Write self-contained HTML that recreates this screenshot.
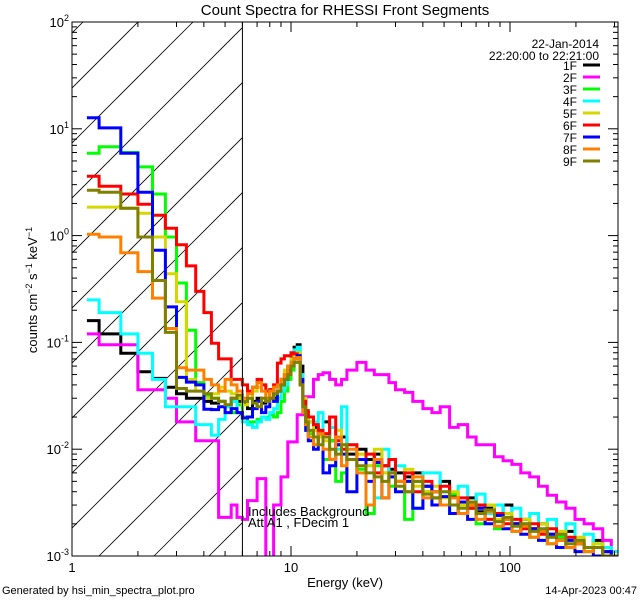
<!DOCTYPE html>
<html><head><meta charset="utf-8"><style>
body{margin:0;background:#fff;}
svg{display:block;font-family:"Liberation Sans",sans-serif;}
</style></head><body>
<svg id="chart" width="640" height="600" viewBox="0 0 640 600" xmlns="http://www.w3.org/2000/svg">
<defs><clipPath id="pc"><rect x="72" y="22" width="546" height="534"/></clipPath></defs>
<rect x="0" y="0" width="640" height="600" fill="#fff"/>
<text x="345" y="15" text-anchor="middle" font-size="15">Count Spectra for RHESSI Front Segments</text>
<g id="hatch" clip-path="url(#hc)"></g>
<g id="series" clip-path="url(#pc)"></g>
<g id="axes"></g>
<text x="248" y="516" font-size="13">Includes Background</text>
<text x="248" y="527" font-size="13">Att A1 , FDecim 1</text>
<text x="345" y="587" text-anchor="middle" font-size="13">Energy (keV)</text>
<text transform="translate(37,290) rotate(-90)" text-anchor="middle" font-size="13">counts cm<tspan dy="-5" font-size="9">−2</tspan><tspan dy="5"> s</tspan><tspan dy="-5" font-size="9">−1</tspan><tspan dy="5"> keV</tspan><tspan dy="-5" font-size="9">−1</tspan></text>
<text x="2" y="594" font-size="11">Generated by hsi_min_spectra_plot.pro</text>
<text x="637" y="594" text-anchor="end" font-size="11">14-Apr-2023 00:47</text>
<text x="599" y="48" text-anchor="end" font-size="12">22-Jan-2014</text>
<text x="599" y="60" text-anchor="end" font-size="12">22:20:00 to 22:21:00</text>
<g id="legend"></g>
</svg>
<script>
const edges=[1.17,1.33,1.67,2,2.33,2.67,3,3.33,3.67,4,4.33,4.67,5,5.33,5.67,6,6.33,6.67,7,7.33,7.67,8,8.33,8.67,9,9.33,9.67,10,10.33,10.67,11,11.33,11.67,12,12.67,13.33,14,15,16,17,18,20,22,24,26,28,30,33,36,40,44,48,53,58,64,70,77,85,93,102,112,123,135,148,163,180,198,218,240,265,290,310];
const seriesNames=["1F","2F","3F","4F","5F","6F","7F","8F","9F"];
const seriesColors=["#000000","#ff00ff","#00ff00","#00ffff","#d7d700","#ff0000","#0000ff","#ff8000","#808000"];
const s1F=[0.16,0.12,0.079,0.053,0.046,0.038,0.033,0.030,0.030,0.028,
0.027,0.028,0.026,0.030,0.028,0.027,0.024,0.028,0.030,0.027,
0.030,0.036,0.030,0.035,0.045,0.050,0.060,0.075,0.090,0.095,
0.060,0.030,0.022,0.018,0.016,0.014,0.018,0.012,0.011,0.013,
0.009,0.010,0.008,0.009,0.007,0.0065,0.006,0.0055,0.006,0.0045,
0.004,0.005,0.0036,0.0032,0.0035,0.0026,0.0028,0.0024,0.0030,0.0020,
0.0022,0.0018,0.0020,0.0016,0.0015,0.0017,0.0013,0.0012,0.0014,0.0011,0.0010];
const s2F=[0.12,0.095,0.095,0.036,0.036,0.03,0.018,0.018,0.012,0.012,
0.012,0.0023,0.0023,0.003,0.0023,0.0022,0.0033,0.0033,0.0053,0.0053,
0.0005,0.0005,0.003,0.003,0.0055,0.0055,0.0117,0.0117,0.0117,0.021,
0.021,0.021,0.031,0.031,0.045,0.05,0.052,0.045,0.04,0.045,
0.055,0.065,0.055,0.05,0.05,0.042,0.036,0.034,0.028,0.024,
0.022,0.025,0.016,0.017,0.013,0.011,0.011,0.0085,0.0078,0.0072,
0.006,0.0055,0.0045,0.0037,0.0032,0.0028,0.0022,0.002,0.0018,0.0014,0.0011];
const s3F=[5.9,6.8,6.0,4.4,2.45,0.97,0.36,0.13,0.042,0.032,
0.030,0.028,0.025,0.022,0.026,0.020,0.018,0.018,0.019,0.020,
0.020,0.021,0.020,0.022,0.028,0.035,0.045,0.055,0.075,0.080,
0.050,0.025,0.018,0.014,0.011,0.013,0.008,0.012,0.005,0.006,
0.008,0.0065,0.0025,0.007,0.006,0.0045,0.005,0.0022,0.005,0.004,
0.0035,0.003,0.0038,0.0025,0.0028,0.002,0.0026,0.0018,0.0022,0.0017,
0.0019,0.0015,0.0017,0.0013,0.0015,0.0012,0.0013,0.0011,0.0012,0.001,0.0009];
const s4F=[0.25,0.19,0.12,0.079,0.045,0.025,0.025,0.025,0.017,0.017,
0.0135,0.019,0.025,0.028,0.022,0.018,0.017,0.016,0.018,0.020,
0.019,0.022,0.024,0.030,0.035,0.040,0.050,0.060,0.085,0.090,
0.050,0.025,0.020,0.015,0.018,0.022,0.013,0.016,0.010,0.025,
0.011,0.009,0.007,0.0035,0.010,0.006,0.007,0.005,0.0028,0.006,
0.006,0.004,0.0025,0.0045,0.003,0.0038,0.0025,0.0030,0.0022,0.0028,
0.0020,0.0025,0.0018,0.0022,0.0016,0.0020,0.0014,0.0016,0.0013,0.0012,0.0011];
const s5F=[1.85,1.85,1.8,1.62,0.97,0.44,0.24,0.045,0.035,0.030,
0.033,0.038,0.035,0.033,0.030,0.026,0.030,0.035,0.038,0.040,
0.030,0.035,0.040,0.038,0.045,0.055,0.060,0.070,0.080,0.080,
0.045,0.030,0.022,0.018,0.015,0.013,0.012,0.010,0.015,0.011,
0.008,0.009,0.007,0.010,0.006,0.0055,0.005,0.0065,0.0045,0.004,
0.0045,0.0035,0.004,0.003,0.0032,0.0028,0.003,0.0022,0.0025,0.002,
0.0022,0.0018,0.002,0.0015,0.0017,0.0014,0.0015,0.0012,0.0013,0.0011,0.001];
const s6F=[3.6,2.9,2.45,1.97,1.55,1.17,0.82,0.52,0.30,0.19,
0.098,0.07,0.07,0.045,0.045,0.040,0.035,0.038,0.045,0.040,
0.035,0.036,0.040,0.064,0.070,0.075,0.075,0.080,0.078,0.075,
0.040,0.028,0.023,0.020,0.017,0.015,0.014,0.020,0.012,0.010,
0.011,0.008,0.009,0.006,0.007,0.008,0.005,0.006,0.004,0.005,
0.0035,0.0045,0.003,0.0035,0.0028,0.003,0.0022,0.0025,0.002,0.0022,
0.0018,0.002,0.0016,0.0018,0.0014,0.0015,0.0013,0.0012,0.0012,0.0011,0.001];
const s7F=[12.7,10.2,5.9,2.55,0.73,0.215,0.047,0.0425,0.040,0.0237,
0.0235,0.025,0.022,0.024,0.022,0.0196,0.020,0.024,0.028,0.022,
0.025,0.030,0.028,0.035,0.040,0.045,0.055,0.065,0.070,0.075,
0.045,0.022,0.015,0.012,0.010,0.014,0.006,0.007,0.011,0.009,
0.004,0.008,0.005,0.0075,0.0035,0.0055,0.004,0.005,0.0028,0.0045,
0.003,0.0036,0.0025,0.0032,0.0022,0.0028,0.002,0.0024,0.0018,0.002,
0.0016,0.0018,0.0014,0.0016,0.0012,0.0014,0.0011,0.0012,0.001,0.0011,0.0009];
const s8F=[1.03,0.97,0.69,0.46,0.26,0.135,0.058,0.055,0.055,0.045,
0.040,0.035,0.045,0.040,0.035,0.030,0.033,0.038,0.042,0.035,
0.030,0.035,0.038,0.040,0.045,0.050,0.060,0.065,0.070,0.072,
0.040,0.022,0.017,0.013,0.011,0.014,0.010,0.008,0.013,0.007,
0.010,0.006,0.003,0.008,0.0035,0.006,0.005,0.004,0.0055,0.0035,
0.004,0.003,0.0035,0.0025,0.003,0.0022,0.0026,0.0019,0.0022,0.0017,
0.0019,0.0015,0.0017,0.0013,0.0014,0.0012,0.0013,0.0011,0.0012,0.001,0.0009];
const s9F=[2.66,2.55,1.8,0.97,0.38,0.124,0.037,0.035,0.035,0.033,
0.030,0.028,0.026,0.030,0.032,0.028,0.030,0.027,0.025,0.030,
0.028,0.030,0.033,0.035,0.040,0.045,0.050,0.060,0.065,0.065,
0.040,0.025,0.018,0.015,0.013,0.011,0.013,0.010,0.009,0.011,
0.008,0.007,0.006,0.0055,0.005,0.006,0.0045,0.004,0.005,0.0038,
0.0035,0.004,0.003,0.0028,0.0032,0.0025,0.0027,0.0021,0.0023,0.0019,
0.002,0.0017,0.0018,0.0015,0.0016,0.0013,0.0014,0.0012,0.0012,0.001,0.001];
const seriesValues=[s1F,s2F,s3F,s4F,s5F,s6F,s7F,s8F,s9F];
const xTickMajor=[1,10,100];
const xTickLabels=["1","10","100"];
const yTickExps=[2,1,0,-1,-2,-3];
const attenuatorEdge=6;

const NS="http://www.w3.org/2000/svg";
const L=72,R=618,T=22,B=556,XDEC=219,YDEC=106.8;
function xs(e){return L+Math.log10(e)*XDEC;}
function ys(v){return T+(2-Math.log10(v))*YDEC;}
function mk(tag,attrs,parent){const el=document.createElementNS(NS,tag);for(const k in attrs)el.setAttribute(k,attrs[k]);parent.appendChild(el);return el;}
const svg=document.getElementById('chart');

const defs=svg.querySelector('defs');
const hc=mk('clipPath',{id:'hc'},defs);
mk('rect',{x:L,y:T,width:xs(attenuatorEdge)-L,height:B-T},hc);
const hatch=document.getElementById('hatch');
for(let c=655+55*6;c>L+T-60;c-=55){
  const ln=mk('line',{x1:c-T,y1:T,x2:c-B,y2:B,stroke:'#000','stroke-width':0.8},hatch);
  
  
}

const sg=document.getElementById('series');
seriesValues.forEach((vals,si)=>{
  let d='';
  vals.forEach((v,i)=>{
    const yy=Math.min(ys(Math.max(v,0.0003)),B+20).toFixed(1);
    const x0=xs(edges[i]).toFixed(1),x1=xs(edges[i+1]).toFixed(1);
    d+=(i===0?'M':'L')+x0+' '+yy+'L'+x1+' '+yy;
  });
  const p=mk('path',{d:d,fill:'none',stroke:seriesColors[si],'stroke-width':3,'stroke-linejoin':'miter'},sg);
  
  
});

const ax=document.getElementById('axes');
const frame=mk('rect',{x:L,y:T,width:R-L,height:B-T,fill:'none',stroke:'#000','stroke-width':1},ax);


const vl=mk('line',{x1:xs(attenuatorEdge),y1:T,x2:xs(attenuatorEdge),y2:B,stroke:'#000','stroke-width':1},ax);


for(let dec=0;dec<3;dec++){
  for(let m=1;m<10;m++){
    const e=m*Math.pow(10,dec);const x=xs(e);if(x>R+0.5)break;
    const len=m===1?10:5;
    mk('line',{x1:x,y1:B,x2:x,y2:B-len,stroke:'#000'},ax);
    mk('line',{x1:x,y1:T,x2:x,y2:T+len,stroke:'#000'},ax);
  }
}
xTickMajor.forEach((e,i)=>{
  const t=mk('text',{x:xs(e),y:572,'text-anchor':'middle','font-size':13},ax);
  t.textContent=xTickLabels[i];
  
  
});
for(let ex=-3;ex<2;ex++){
  for(let m=1;m<10;m++){
    const y=ys(m*Math.pow(10,ex));const len=m===1?10:5;
    mk('line',{x1:L,y1:y,x2:L+len,y2:y,stroke:'#000'},ax);
    mk('line',{x1:R,y1:y,x2:R-len,y2:y,stroke:'#000'},ax);
  }
}
mk('line',{x1:L,y1:T,x2:L+10,y2:T,stroke:'#000'},ax);
yTickExps.forEach(ex=>{
  const y=ys(Math.pow(10,ex));
  const t=mk('text',{x:L-3,y:y+5,'text-anchor':'end','font-size':13},ax);
  
  
  const a=document.createElementNS(NS,'tspan');a.textContent='10';t.appendChild(a);
  const b=document.createElementNS(NS,'tspan');b.setAttribute('dy','-6');b.setAttribute('font-size','9');b.textContent=String(ex);t.appendChild(b);
});

const lg=document.getElementById('legend');
seriesNames.forEach((n,i)=>{
  const y=65+12*i;
  const t=mk('text',{x:577,y:y+5,'text-anchor':'end','font-size':12},lg);
  t.textContent=n;
  
  
  const l=mk('line',{x1:583,y1:y,x2:600,y2:y,stroke:seriesColors[i],'stroke-width':3},lg);
  
  
});
</script>
</body></html>
